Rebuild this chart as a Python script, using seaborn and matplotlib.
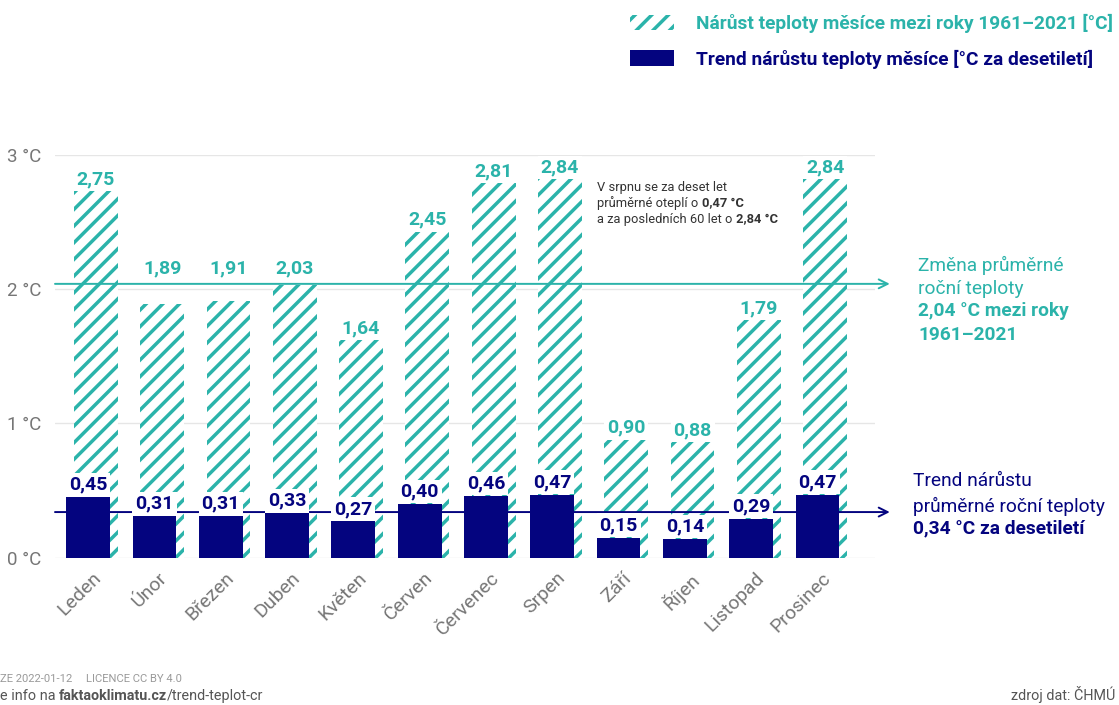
import numpy as np
import matplotlib
matplotlib.use("Agg")
import matplotlib.pyplot as plt
import seaborn as sns
from matplotlib.patches import Patch

# data
months = ["Leden", "Únor", "Březen", "Duben", "Květen", "Červen",
          "Červenec", "Srpen", "Září", "Říjen", "Listopad", "Prosinec"]
change_61_21 = [2.75, 1.89, 1.91, 2.03, 1.64, 2.45, 2.81, 2.84, 0.90, 0.88, 1.79, 2.84]
trend_decade = [0.45, 0.31, 0.31, 0.33, 0.27, 0.40, 0.46, 0.47, 0.15, 0.14, 0.29, 0.47]
annual_change = 2.04
annual_trend = 0.34
yticks = [0, 1, 2, 3]
ytick_labels = ["0 °C", "1 °C", "2 °C", "3 °C"]
legend_labels = ["Nárůst teploty měsíce mezi roky 1961–2021 [°C]",
                 "Trend nárůstu teploty měsíce [°C za desetiletí]"]

TEAL = "#2bb3aa"
NAVY = "#04047f"
GRAY = "#767676"

sns.set_theme(style="white")
plt.rcParams["font.family"] = ["Roboto", "DejaVu Sans"]
plt.rcParams["hatch.linewidth"] = 2.5

W, H = 1119, 705
fig = plt.figure(figsize=(W / 100, H / 100), dpi=100)
ax = fig.add_axes([55 / W, 1 - 557.7 / H, 820 / W, 402.7 / H])


def fx(px):
    return px / W


def fy(py):
    return 1 - py / H


pos = np.arange(len(months))
off = 0.058

# hatched bars (change 1961-2021)
n0 = len(ax.patches)
sns.barplot(x=pos + off, y=change_61_21, native_scale=True, width=0.66,
            color="white", saturation=1, ax=ax)
for p in ax.patches[n0:]:
    p.set_facecolor("white")
    p.set_edgecolor(TEAL)
    p.set_linewidth(0)
    p.set_hatch("//")
    p.set_zorder(1)

# solid bars (trend per decade)
n1 = len(ax.patches)
sns.barplot(x=pos - off, y=trend_decade, native_scale=True, width=0.66,
            color=NAVY, saturation=1, ax=ax)
for p in ax.patches[n1:]:
    p.set_facecolor(NAVY)
    p.set_linewidth(0)
    p.set_zorder(3)


def fmt(v):
    return f"{v:.2f}".replace(".", ",")


box = dict(boxstyle="square,pad=0.15", fc="white", ec="none")
for x, v in zip(pos + off, change_61_21):
    # labels just under the annual line are lifted above it
    anchor = annual_change + 0.045 if 0 < annual_change - v < 0.2 else v
    ax.annotate(fmt(v), (x, anchor), xytext=(0, 0), textcoords="offset points",
                ha="center", va="bottom", color=TEAL, fontsize=14,
                fontweight="bold", bbox=box, zorder=5, annotation_clip=False)
for x, v in zip(pos - off, trend_decade):
    ax.annotate(fmt(v), (x, v), xytext=(0, 2.5), textcoords="offset points",
                ha="center", va="bottom", color=NAVY, fontsize=14,
                fontweight="bold", bbox=box, zorder=5, annotation_clip=False)

# reference lines with arrows
ax.annotate("", xy=(1.018, annual_change), xycoords=("axes fraction", "data"),
            xytext=(0, annual_change), textcoords=("axes fraction", "data"),
            arrowprops=dict(arrowstyle="->", color=TEAL, lw=1.4, shrinkA=0,
                            shrinkB=0, mutation_scale=16),
            zorder=4, annotation_clip=False)
ax.annotate("", xy=(1.018, annual_trend), xycoords=("axes fraction", "data"),
            xytext=(0, annual_trend), textcoords=("axes fraction", "data"),
            arrowprops=dict(arrowstyle="->", color=NAVY, lw=1.4, shrinkA=0,
                            shrinkB=0, mutation_scale=16),
            zorder=2, annotation_clip=False)

# axes styling
ax.set_xlim(-0.558, 11.81)
ax.set_ylim(0, 3)
ax.set_xticks(pos)
ax.set_xticklabels(months, rotation=45, ha="right", rotation_mode="anchor")
ax.set_yticks(yticks)
ax.set_yticklabels(ytick_labels)
ax.tick_params(axis="x", length=0, pad=8, labelsize=14, labelcolor=GRAY)
ax.tick_params(axis="y", length=0, pad=10, labelsize=13.5, labelcolor=GRAY)
ax.yaxis.grid(True, color="#e6e6e6", lw=1)
ax.xaxis.grid(False)
ax.set_axisbelow(True)
sns.despine(ax=ax, left=True, bottom=True)
ax.set_xlabel("")
ax.set_ylabel("")

# note inside the chart
note_kw = dict(fontsize=9.3, color="#333333", va="bottom", annotation_clip=False)
ax.annotate("V srpnu se za deset let", (fx(597), fy(194)), xycoords="figure fraction", **note_kw)
t2 = ax.annotate("průměrné oteplí o ", (fx(597), fy(210)), xycoords="figure fraction", **note_kw)
ax.annotate("0,47 °C", (1, 0), xycoords=t2, fontweight="bold", **note_kw)
t3 = ax.annotate("a za posledních 60 let o ", (fx(597), fy(226)), xycoords="figure fraction", **note_kw)
ax.annotate("2,84 °C", (1, 0), xycoords=t3, fontweight="bold", **note_kw)

# right side explanations
side_kw = dict(fontsize=13.8, va="center", ha="left", linespacing=1.4)
fig.text(fx(918), fy(277), "Změna průměrné\nroční teploty", color=TEAL, **side_kw)
fig.text(fx(918), fy(323), "2,04 °C mezi roky\n1961–2021", color=TEAL,
         fontweight="bold", **side_kw)
fig.text(fx(913), fy(494), "Trend nárůstu\nprůměrné roční teploty", color=NAVY, **side_kw)
fig.text(fx(913), fy(528), "0,34 °C za desetiletí", color=NAVY,
         fontweight="bold", **side_kw)

# legend
handles = [Patch(facecolor="white", edgecolor=TEAL, hatch="//", lw=0),
           Patch(facecolor=NAVY, edgecolor=NAVY, lw=0)]
leg = fig.legend(handles, legend_labels, loc="upper left",
                 bbox_to_anchor=(fx(626), fy(10)), frameon=False,
                 prop=dict(size=13.8, weight="bold"), handlelength=2.3,
                 handleheight=0.85, handletextpad=1.15, labelspacing=0.86,
                 borderaxespad=0, borderpad=0.2)
for t, c in zip(leg.get_texts(), [TEAL, NAVY]):
    t.set_color(c)

# footer
fig.text(0, fy(682), "ZE 2022-01-12     LICENCE CC BY 4.0", fontsize=8.1,
         color="#9a9a9a", ha="left", va="baseline")
foot_kw = dict(fontsize=10.4, color="#555555", va="bottom", annotation_clip=False)
f1 = ax.annotate("e info na ", (0, fy(703)), xycoords="figure fraction", **foot_kw)
f2 = ax.annotate("faktaoklimatu.cz", (1, 0), xycoords=f1, fontweight="bold", **foot_kw)
ax.annotate("/trend-teplot-cr", (1, 0), xycoords=f2, **foot_kw)
fig.text(fx(1115), fy(703), "zdroj dat: ČHMÚ", fontsize=10.4, color="#555555",
         ha="right", va="bottom")

fig.savefig("out.png", dpi=100)
